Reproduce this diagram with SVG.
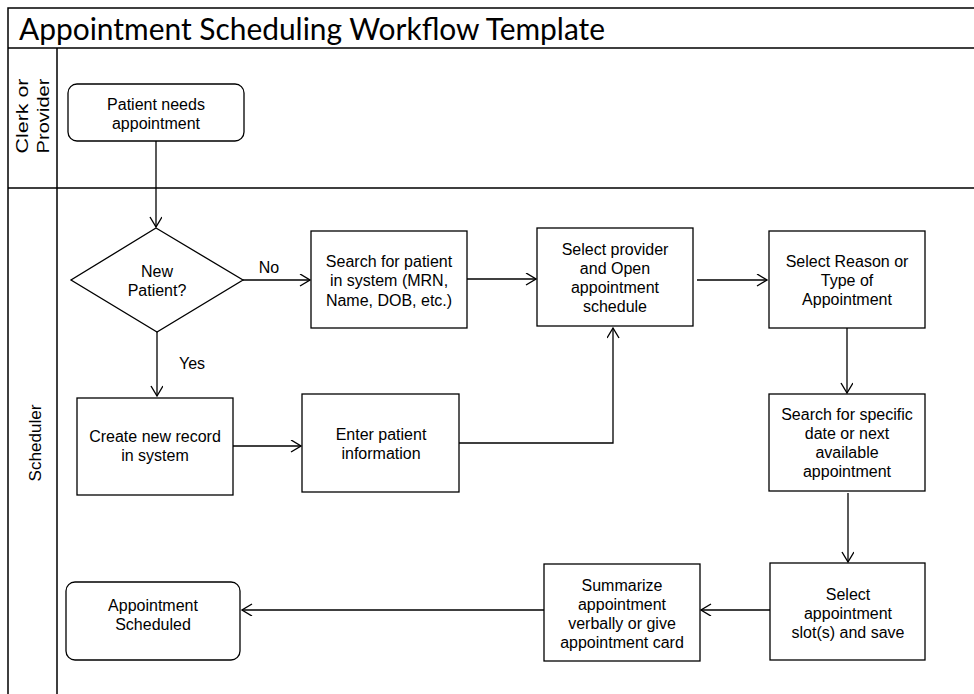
<svg xmlns="http://www.w3.org/2000/svg" width="974" height="694" viewBox="0 0 974 694">
<style>
.frame{fill:none;stroke:#000;stroke-width:1.5}
.box{fill:#fff;stroke:#000;stroke-width:1.3}
.t{font-family:"Liberation Sans",Arial,sans-serif;font-size:16px;fill:#000;text-anchor:middle}
.lane{font-family:"Liberation Sans",Arial,sans-serif;font-size:17px;fill:#000;text-anchor:middle}
.title{font-family:Lato,"Open Sans",sans-serif;font-size:31px;fill:#000}
.c{fill:none;stroke:#000;stroke-width:1.3}
</style>
<defs>
<marker id="arr" markerWidth="14" markerHeight="14" refX="11" refY="6" orient="auto" markerUnits="userSpaceOnUse">
<path d="M1,0 L11,6 L1,12" fill="none" stroke="#000" stroke-width="1.4"/>
</marker>
</defs>
<rect width="974" height="694" fill="#fff"/>
<g id="pool">
<path class="frame" d="M8,694 V8 H980 M8,48 H980 M8,188 H980 M57,48 V694"/>
<text class="title" x="19" y="40" textLength="586" lengthAdjust="spacingAndGlyphs">Appointment Scheduling Workflow Template</text>
<text class="lane" transform="translate(28,116) rotate(-90)" textLength="75" lengthAdjust="spacingAndGlyphs">Clerk or</text>
<text class="lane" transform="translate(49,116) rotate(-90)" textLength="75" lengthAdjust="spacingAndGlyphs">Provider</text>
<text class="lane" transform="translate(41,443) rotate(-90)" textLength="77" lengthAdjust="spacingAndGlyphs">Scheduler</text>
</g>
<g id="connectors">
<path class="c" d="M156,141 V227" marker-end="url(#arr)"/>
<path class="c" d="M243,280 H310" marker-end="url(#arr)"/>
<path class="c" d="M467,279 H536" marker-end="url(#arr)"/>
<path class="c" d="M697,280 H767" marker-end="url(#arr)"/>
<path class="c" d="M847,328 V393" marker-end="url(#arr)"/>
<path class="c" d="M848,493 V562" marker-end="url(#arr)"/>
<path class="c" d="M770,610 H701" marker-end="url(#arr)"/>
<path class="c" d="M544,610 H242" marker-end="url(#arr)"/>
<path class="c" d="M157,332 V396" marker-end="url(#arr)"/>
<path class="c" d="M232,446 H301" marker-end="url(#arr)"/>
<path class="c" d="M459,443 H613 V328" marker-end="url(#arr)"/>
<text class="t" x="269" y="273">No</text>
<text class="t" x="192" y="369">Yes</text>
</g>
<g id="start">
<rect class="box" x="68" y="84" width="176" height="57" rx="9"/>
<text class="t" x="156" y="110">Patient needs</text>
<text class="t" x="156" y="129">appointment</text>
</g>
<g id="decision">
<polygon class="box" points="156,228 243,280 157,332 71,280"/>
<text class="t" x="157" y="277">New</text>
<text class="t" x="157" y="296">Patient?</text>
</g>
<g id="search">
<rect class="box" x="311" y="231" width="156" height="97"/>
<text class="t" x="389" y="267">Search for patient</text>
<text class="t" x="389" y="286">in system (MRN,</text>
<text class="t" x="389" y="306">Name, DOB, etc.)</text>
</g>
<g id="provider">
<rect class="box" x="537" y="228" width="156" height="98"/>
<text class="t" x="615" y="255">Select provider</text>
<text class="t" x="615" y="274">and Open</text>
<text class="t" x="615" y="293">appointment</text>
<text class="t" x="615" y="312">schedule</text>
</g>
<g id="reason">
<rect class="box" x="769" y="231" width="156" height="97"/>
<text class="t" x="847" y="267">Select Reason or</text>
<text class="t" x="847" y="286">Type of</text>
<text class="t" x="847" y="305">Appointment</text>
</g>
<g id="date">
<rect class="box" x="769" y="394" width="156" height="97"/>
<text class="t" x="847" y="420">Search for specific</text>
<text class="t" x="847" y="439">date or next</text>
<text class="t" x="847" y="458">available</text>
<text class="t" x="847" y="477">appointment</text>
</g>
<g id="slot">
<rect class="box" x="770" y="563" width="155" height="97"/>
<text class="t" x="848" y="600">Select</text>
<text class="t" x="848" y="619">appointment</text>
<text class="t" x="848" y="638">slot(s) and save</text>
</g>
<g id="summarize">
<rect class="box" x="544" y="564" width="156" height="97"/>
<text class="t" x="622" y="591">Summarize</text>
<text class="t" x="622" y="610">appointment</text>
<text class="t" x="622" y="629">verbally or give</text>
<text class="t" x="622" y="648">appointment card</text>
</g>
<g id="end">
<rect class="box" x="66" y="582" width="174" height="78" rx="9"/>
<text class="t" x="153" y="611">Appointment</text>
<text class="t" x="153" y="630">Scheduled</text>
</g>
<g id="create">
<rect class="box" x="77" y="398" width="156" height="97"/>
<text class="t" x="155" y="442">Create new record</text>
<text class="t" x="155" y="461">in system</text>
</g>
<g id="enter">
<rect class="box" x="302" y="394" width="157" height="98"/>
<text class="t" x="381" y="440">Enter patient</text>
<text class="t" x="381" y="459">information</text>
</g>
</svg>
